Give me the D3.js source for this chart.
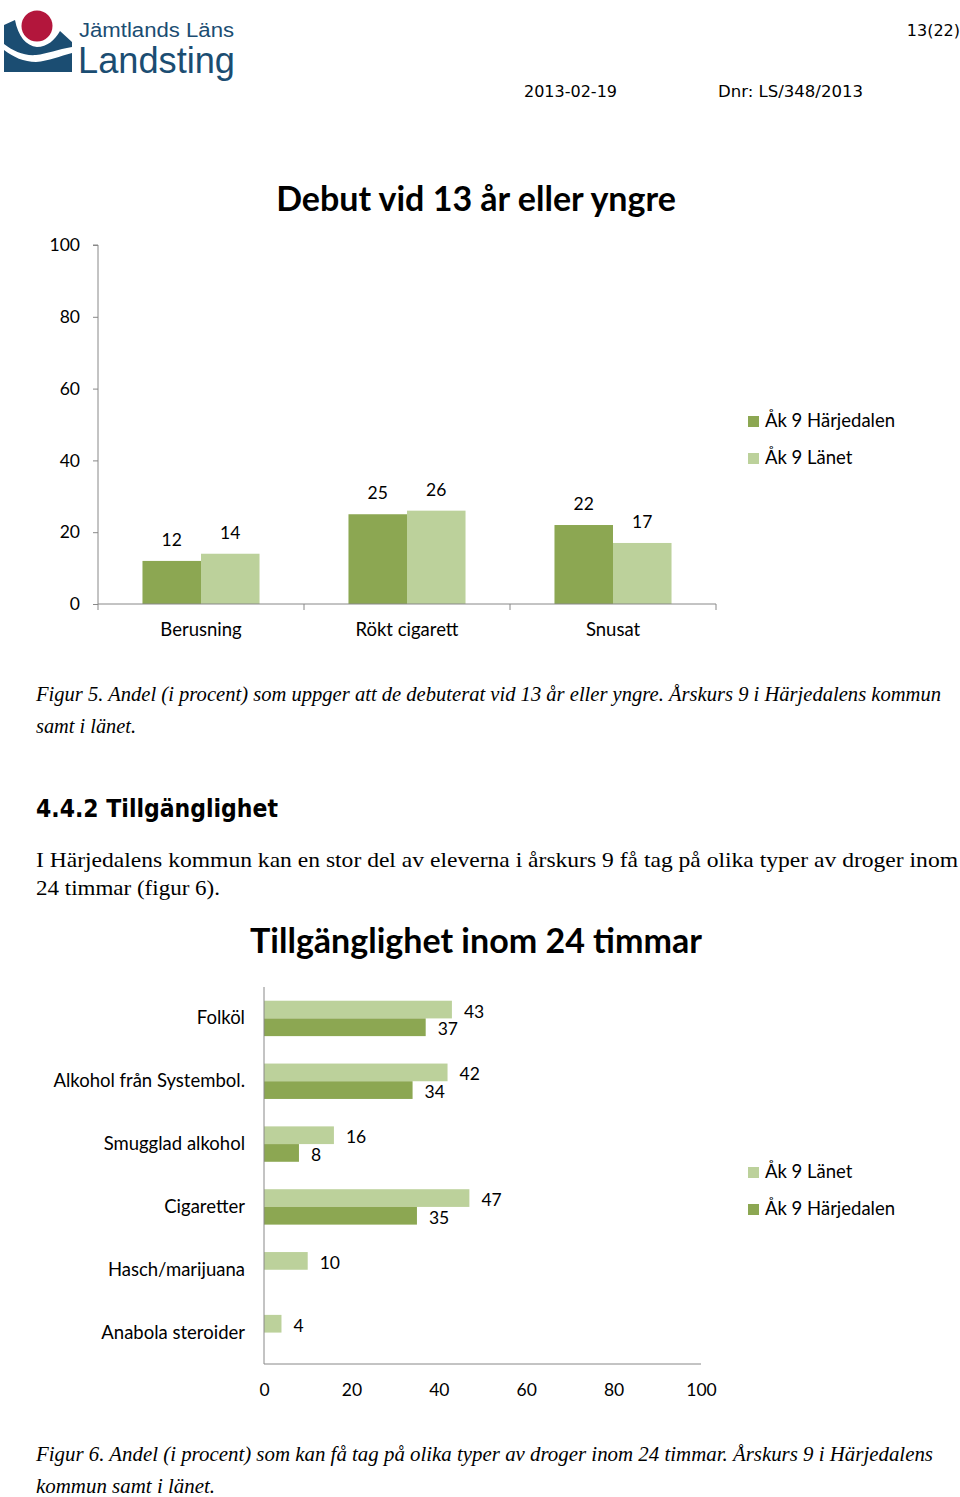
<!DOCTYPE html>
<html><head><meta charset="utf-8">
<script src="https://cdn.jsdelivr.net/npm/d3@7"></script>
<style>
html,body{margin:0;padding:0;background:#fff;}
svg{display:block;}
</style></head>
<body>
<script>
// ---------- DATA ----------
const chart1Title = "Debut vid 13 år eller yngre";
const chart1Categories = ["Berusning", "Rökt cigarett", "Snusat"];
const chart1Harjedalen = [12, 25, 22];
const chart1Lanet = [14, 26, 17];
const chart1Ticks = [0, 20, 40, 60, 80, 100];

const chart2Title = "Tillgänglighet inom 24 timmar";
const chart2Categories = ["Folköl", "Alkohol från Systembol.", "Smugglad alkohol", "Cigaretter", "Hasch/marijuana", "Anabola steroider"];
const chart2Lanet = [43, 42, 16, 47, 10, 4];
const chart2Harjedalen = [37, 34, 8, 35, null, null];
const chart2Ticks = [0, 20, 40, 60, 80, 100];

const seriesNames = ["Åk 9 Härjedalen", "Åk 9 Länet"];
const colDark = "#8ca752", colLight = "#bcd19b";
const chartFont = "Lato, 'Noto Sans', sans-serif";
const serif = "'Liberation Serif', 'DejaVu Serif', serif";
const fs = 18.5;

const svg = d3.select("body").append("svg").attr("width", 960).attr("height", 1497);

// ---------- HEADER ----------
const logo = svg.append("g");
logo.append("path").attr("fill", "#1b4d72")
  .attr("d", "M4,25 L15,20 C18,36 26,46 37,47 C47,47 55,40 60,31 L72,42 L72,47 C58,49 47,54 36,55 C24,56 13,51 4,44 Z");
logo.append("path").attr("fill", "#1b4d72")
  .attr("d", "M4,50 C13,57 24,62 36,62 C49,61 60,56 72,53 L72,72 L4,72 Z");
logo.append("circle").attr("cx", 37).attr("cy", 26).attr("r", 17).attr("fill", "#fff");
logo.append("circle").attr("cx", 37).attr("cy", 26).attr("r", 15.5).attr("fill", "#b3163c");
const logoFont = "'Liberation Sans', Arial, sans-serif";
logo.append("text").attr("x", 79).attr("y", 37).attr("font-family", logoFont)
  .attr("font-size", 20).attr("fill", "#1b4d72").attr("textLength", 155).attr("lengthAdjust", "spacingAndGlyphs").text("Jämtlands Läns");
logo.append("text").attr("x", 78).attr("y", 73).attr("font-family", logoFont)
  .attr("font-size", 36).attr("fill", "#1b4d72").attr("textLength", 157).attr("lengthAdjust", "spacingAndGlyphs").text("Landsting");

const hdrFont = "'DejaVu Sans', Verdana, sans-serif";
svg.append("text").attr("x", 960).attr("y", 36).attr("text-anchor", "end").attr("font-family", hdrFont).attr("font-size", 16).text("13(22)");
svg.append("text").attr("x", 524).attr("y", 97).attr("font-family", hdrFont).attr("font-size", 16).text("2013-02-19");
svg.append("text").attr("x", 718).attr("y", 97).attr("font-family", hdrFont).attr("font-size", 16).attr("textLength", 145).attr("lengthAdjust", "spacingAndGlyphs").text("Dnr: LS/348/2013");

// ---------- CHART 1 ----------
const c1 = {left: 98, right: 716, top: 245, bottom: 604};
const x1 = d3.scaleBand().domain(chart1Categories).range([c1.left, c1.right]).padding(0);
const x1s = d3.scaleBand().domain(seriesNames).range([0, x1.bandwidth()]).paddingInner(0).paddingOuter(0.76);
const y1 = d3.scaleLinear().domain([0, 100]).range([c1.bottom, c1.top]);

svg.append("text").attr("x", 476).attr("y", 211).attr("text-anchor", "middle").attr("font-family", chartFont)
  .attr("font-weight", "bold").attr("font-size", 34).text(chart1Title);

const g1 = svg.append("g");
const yAxis1 = g1.append("g").attr("transform", `translate(${c1.left},0)`)
  .call(d3.axisLeft(y1).tickValues(chart1Ticks).tickSize(5).tickPadding(13));
yAxis1.select(".domain").attr("stroke", "#888").attr("d", `M-5,${c1.top}H0V${c1.bottom}`);
yAxis1.selectAll(".tick line").attr("stroke", "#888");
yAxis1.selectAll(".tick text").attr("font-family", chartFont).attr("font-size", 17.5).attr("fill", "#000");

const series1 = [chart1Harjedalen, chart1Lanet];
const cols = [colDark, colLight];
series1.forEach((vals, si) => {
  const gg = g1.append("g");
  gg.selectAll("rect").data(chart1Categories).join("rect")
    .attr("x", (c) => x1(c) + x1s(seriesNames[si]))
    .attr("width", x1s.bandwidth())
    .attr("y", (c, i) => y1(vals[i]))
    .attr("height", (c, i) => y1(0) - y1(vals[i]))
    .attr("fill", cols[si]);
  gg.selectAll("text").data(chart1Categories).join("text")
    .attr("x", (c) => x1(c) + x1s(seriesNames[si]) + x1s.bandwidth() / 2)
    .attr("y", (c, i) => y1(vals[i]) - 15)
    .attr("text-anchor", "middle").attr("font-family", chartFont).attr("font-size", 17.5)
    .text((c, i) => vals[i]);
});

const xAxis1 = g1.append("g").attr("transform", `translate(0,${c1.bottom})`);
xAxis1.append("line").attr("x1", c1.left).attr("x2", c1.right).attr("stroke", "#888");
xAxis1.selectAll("line.tk").data([c1.left, ...chart1Categories.map(c => x1(c) + x1.bandwidth())]).join("line")
  .attr("class", "tk").attr("x1", d => d).attr("x2", d => d).attr("y1", 0).attr("y2", 6).attr("stroke", "#888");
xAxis1.selectAll("text").data(chart1Categories).join("text")
  .attr("x", c => x1(c) + x1.bandwidth() / 2).attr("y", 32)
  .attr("text-anchor", "middle").attr("font-family", chartFont).attr("font-size", fs).text(c => c);

// legend 1
const leg1 = svg.append("g");
seriesNames.forEach((n, i) => {
  const cy = 421 + i * 37;
  leg1.append("rect").attr("x", 748).attr("y", cy - 5).attr("width", 11).attr("height", 11).attr("fill", cols[i]);
  leg1.append("text").attr("x", 765).attr("y", cy + 6).attr("font-family", chartFont).attr("font-size", fs).text(n);
});

// caption 1
function para(lines, x, y0, lh, opts) {
  lines.forEach((l, i) => {
    const t = svg.append("text").attr("x", x).attr("y", y0 + i * lh).attr("font-family", serif)
      .attr("font-size", opts.size).attr("font-style", opts.italic ? "italic" : "normal").text(l[0]);
    if (l[1]) t.attr("textLength", l[1]).attr("lengthAdjust", "spacingAndGlyphs");
  });
}
para([["Figur 5. Andel (i procent) som uppger att de debuterat vid 13 år eller yngre. Årskurs 9 i Härjedalens kommun", 905],
      ["samt i länet.", 100]], 36, 701, 32, {size: 21, italic: true});

svg.append("text").attr("x", 36).attr("y", 817).attr("font-family", hdrFont).attr("font-weight", "bold")
  .attr("font-size", 24).attr("textLength", 242).attr("lengthAdjust", "spacingAndGlyphs").text("4.4.2  Tillgänglighet");

para([["I Härjedalens kommun kan en stor del av eleverna i årskurs 9 få tag på olika typer av droger inom", 922],
      ["24 timmar (figur 6).", 184]], 36, 867, 28, {size: 21, italic: false});

// ---------- CHART 2 ----------
svg.append("text").attr("x", 476).attr("y", 953).attr("text-anchor", "middle").attr("font-family", chartFont)
  .attr("font-weight", "bold").attr("font-size", 34).text(chart2Title);

const c2 = {left: 264, right: 701, top: 987, bottom: 1364};
const x2 = d3.scaleLinear().domain([0, 100]).range([c2.left, c2.right]);
const y2 = d3.scaleBand().domain(chart2Categories).range([c2.top, c2.bottom]).padding(0);
const y2s = d3.scaleBand().domain(["Länet", "Härjedalen"]).range([0, y2.bandwidth()]).paddingInner(0).paddingOuter(0.775);

const g2 = svg.append("g");
const series2 = [[chart2Lanet, "Länet", colLight], [chart2Harjedalen, "Härjedalen", colDark]];
series2.forEach(([vals, key, col]) => {
  const items = chart2Categories.map((c, i) => ({c, v: vals[i]})).filter(d => d.v != null);
  const gg = g2.append("g");
  gg.selectAll("rect").data(items).join("rect")
    .attr("x", x2(0)).attr("y", d => y2(d.c) + y2s(key))
    .attr("width", d => x2(d.v) - x2(0)).attr("height", y2s.bandwidth()).attr("fill", col);
  gg.selectAll("text").data(items).join("text")
    .attr("x", d => x2(d.v) + 12).attr("y", d => y2(d.c) + y2s(key) + y2s.bandwidth() / 2 + 8)
    .attr("font-family", chartFont).attr("font-size", 17.5).text(d => d.v);
});

g2.append("line").attr("x1", c2.left).attr("x2", c2.left).attr("y1", c2.top).attr("y2", c2.bottom).attr("stroke", "#888");
const xAxis2 = g2.append("g").attr("transform", `translate(0,${c2.bottom})`)
  .call(d3.axisBottom(x2).tickValues(chart2Ticks).tickSize(0).tickPadding(20));
xAxis2.select(".domain").attr("stroke", "#888").attr("d", `M${c2.left},0H${c2.right}`);
xAxis2.selectAll(".tick text").attr("font-family", chartFont).attr("font-size", 17.5).attr("fill", "#000");

g2.selectAll("text.cat").data(chart2Categories).join("text").attr("class", "cat")
  .attr("x", 245).attr("y", c => y2(c) + y2.bandwidth() / 2 + 6)
  .attr("text-anchor", "end").attr("font-family", chartFont).attr("font-size", fs).text(c => c);

// legend 2
const leg2Names = ["Åk 9 Länet", "Åk 9 Härjedalen"];
const leg2Cols = [colLight, colDark];
leg2Names.forEach((n, i) => {
  const cy = 1172 + i * 37;
  svg.append("rect").attr("x", 748).attr("y", cy - 5).attr("width", 11).attr("height", 11).attr("fill", leg2Cols[i]);
  svg.append("text").attr("x", 765).attr("y", cy + 6).attr("font-family", chartFont).attr("font-size", fs).text(n);
});

para([["Figur 6. Andel (i procent) som kan få tag på olika typer av droger inom 24 timmar. Årskurs 9 i Härjedalens", 897],
      ["kommun samt i länet.", 179]], 36, 1461, 32, {size: 21, italic: true});
</script>
</body></html>
